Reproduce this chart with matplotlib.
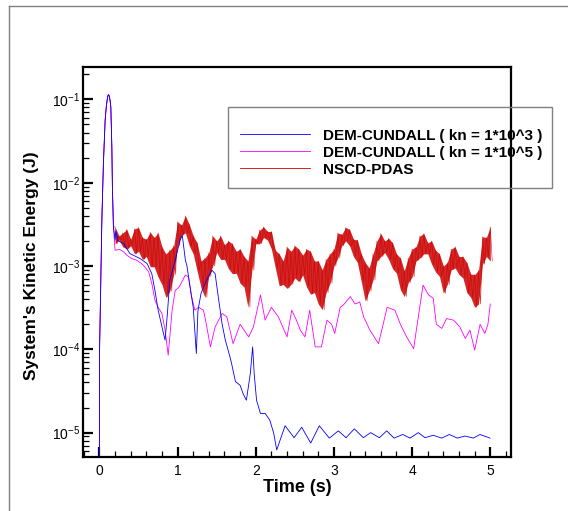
import numpy as np
import matplotlib
matplotlib.use("Agg")
import matplotlib.pyplot as plt
from matplotlib.ticker import MultipleLocator, LogLocator, NullFormatter
from matplotlib.lines import Line2D
from matplotlib.patches import Rectangle

plt.rcParams['font.family'] = ['Liberation Sans', 'DejaVu Sans']

# launch / first impact, shared by the three runs
start_t = [0.0, 0.002, 0.018, 0.031, 0.051, 0.073, 0.088, 0.100, 0.108, 0.115, 0.122,
           0.130, 0.138, 0.146, 0.159, 0.166, 0.179]
start_e = [1e-6, 1e-4, 6.8e-4, 3.5e-3, 1.7e-2, 5.6e-2, 8.2e-2, 1.0e-1, 1.1e-1, 1.14e-1,
           1.12e-1, 1.05e-1, 9.4e-2, 8.1e-2, 2.7e-2, 8.9e-3, 3.0e-3]

# DEM-CUNDALL kn = 1e3
kn3_t = [0.20, 0.21, 0.24, 0.31, 0.39, 0.52, 0.61, 0.67, 0.71, 0.75, 0.80, 0.83, 0.84,
         0.87, 0.90, 0.97, 1.03, 1.06, 1.10, 1.12, 1.16, 1.20, 1.24, 1.26, 1.30, 1.37,
         1.44, 1.48, 1.52, 1.57, 1.61, 1.67, 1.69, 1.74, 1.80, 1.84, 1.88, 1.93, 1.96,
         1.98, 2.01, 2.06, 2.12, 2.18, 2.23, 2.268, 2.375, 2.49, 2.588, 2.703, 2.813,
         2.941, 3.056, 3.155, 3.261, 3.376, 3.47, 3.581, 3.675, 3.769, 3.88, 3.973,
         4.08, 4.165, 4.271, 4.378, 4.476, 4.578, 4.676, 4.783, 4.868, 4.996]
kn3_e = [2.05e-3, 2.6e-3, 2.0e-3, 1.86e-3, 1.41e-3, 1.23e-3, 1.07e-3, 8.1e-4, 5.1e-4,
         3.0e-4, 1.86e-4, 1.41e-4, 1.29e-4, 2.7e-4, 6.8e-4, 1.17e-3, 2.04e-3, 2.34e-3,
         1.17e-3, 1.0e-3, 5.5e-4, 3.2e-4, 8.9e-5, 2.9e-4, 4.7e-4, 6.8e-4, 8.9e-4, 8.1e-4,
         4.3e-4, 2.0e-4, 1.3e-4, 8.1e-5, 6.8e-5, 4.1e-5, 3.7e-5, 2.9e-5, 2.45e-5, 5.1e-5,
         1.07e-4, 5.1e-5, 2.45e-5, 1.7e-5, 1.7e-5, 1.41e-5, 9.8e-6, 6.2e-6, 1.21e-5,
         8.7e-6, 1.16e-5, 7.5e-6, 1.21e-5, 8.6e-6, 1.05e-5, 8.7e-6, 1.11e-5, 8.7e-6,
         1.0e-5, 8.7e-6, 1.05e-5, 8.6e-6, 9.5e-6, 8.6e-6, 1.0e-5, 8.7e-6, 9.3e-6, 8.6e-6,
         9.5e-6, 8.6e-6, 9.1e-6, 8.6e-6, 9.5e-6, 8.6e-6]

# DEM-CUNDALL kn = 1e5
kn5_t = [0.20, 0.26, 0.31, 0.35, 0.41, 0.48, 0.54, 0.58, 0.63, 0.67, 0.71, 0.75, 0.80,
         0.84, 0.88, 0.93, 0.97, 1.02, 1.10, 1.14, 1.18, 1.22, 1.27, 1.33, 1.35, 1.42,
         1.48, 1.57, 1.63, 1.71, 1.80, 1.91, 1.97, 2.06, 2.12, 2.20, 2.29, 2.40, 2.46,
         2.52, 2.57, 2.63, 2.69, 2.76, 2.84, 2.91, 2.97, 3.01, 3.08, 3.12, 3.21, 3.27,
         3.33, 3.38, 3.46, 3.57, 3.63, 3.68, 3.78, 3.85, 3.93, 4.02, 4.06, 4.14, 4.21,
         4.27, 4.31, 4.38, 4.44, 4.53, 4.61, 4.68, 4.74, 4.80, 4.87, 4.93, 4.97, 5.00]
kn5_e = [1.55e-3, 1.58e-3, 1.48e-3, 1.35e-3, 1.23e-3, 1.17e-3, 1.07e-3, 9.8e-4, 8.5e-4,
         6.2e-4, 3.9e-4, 3.2e-4, 2.7e-4, 1.7e-4, 8.5e-5, 2.95e-4, 5.1e-4, 5.6e-4, 7.8e-4,
         7.4e-4, 4.3e-4, 2.95e-4, 3.2e-4, 2.95e-4, 2.45e-4, 1.07e-4, 1.86e-4, 2.7e-4,
         2.45e-4, 1.17e-4, 2.0e-4, 1.41e-4, 1.86e-4, 4.5e-4, 2.24e-4, 3.2e-4, 2.45e-4,
         1.41e-4, 2.95e-4, 2.24e-4, 1.7e-4, 1.41e-4, 2.95e-4, 1.07e-4, 1.07e-4, 2.24e-4,
         2.0e-4, 1.55e-4, 3.2e-4, 3.4e-4, 4.3e-4, 3.5e-4, 3.7e-4, 2.45e-4, 1.7e-4,
         1.17e-4, 2.0e-4, 3.2e-4, 2.95e-4, 2.0e-4, 1.41e-4, 1.02e-4, 1.86e-4, 5.9e-4,
         4.5e-4, 4.1e-4, 2.0e-4, 1.78e-4, 2.34e-4, 2.24e-4, 1.86e-4, 1.35e-4, 1.7e-4,
         9.8e-5, 2.0e-4, 1.55e-4, 2.0e-4, 3.5e-4]

# NSCD-PDAS: upper / lower swing of the noisy signal, every 0.05 s from 0.2 s
pdas_t = np.round(np.arange(0.20, 5.001, 0.05), 3)
pdas_hi = [2.95e-3, 2.3e-3, 2.5e-3, 2.75e-3, 2.1e-3, 2.8e-3, 2.9e-3, 2.2e-3, 2.1e-3, 2.55e-3,
           2.2e-3, 2.5e-3, 1.7e-3, 1.4e-3, 1.55e-3, 1.75e-3, 3.4e-3, 3.1e-3, 4.0e-3, 3.15e-3,
           2.3e-3, 1.9e-3, 1.15e-3, 1.25e-3, 1.45e-3, 2.3e-3, 2.0e-3, 2.3e-3, 1.8e-3, 2.0e-3,
           1.85e-3, 1.5e-3, 1.6e-3, 1.3e-3, 1.15e-3, 2.3e-3, 2.1e-3, 2.7e-3, 2.95e-3, 2.6e-3,
           2.6e-3, 1.55e-3, 1.4e-3, 1.15e-3, 1.7e-3, 1.5e-3, 1.75e-3, 1.6e-3, 1.35e-3, 1.6e-3,
           1.5e-3, 1.15e-3, 1.15e-3, 9.0e-4, 1.2e-3, 1.4e-3, 1.6e-3, 2.5e-3, 2.4e-3, 2.9e-3,
           2.75e-3, 2.1e-3, 2.05e-3, 1.4e-3, 1.1e-3, 9.5e-4, 1.4e-3, 2.0e-3, 2.45e-3, 2.0e-3,
           2.15e-3, 1.9e-3, 1.4e-3, 1.25e-3, 8.8e-4, 1.25e-3, 1.6e-3, 1.7e-3, 2.3e-3, 2.45e-3,
           1.9e-3, 2.0e-3, 1.55e-3, 1.4e-3, 1.0e-3, 1.1e-3, 1.6e-3, 1.7e-3, 1.3e-3, 1.3e-3,
           1.1e-3, 8.0e-4, 7.9e-4, 8.9e-4, 2.25e-3, 2.2e-3, 2.95e-3]
pdas_lo = [1.85e-3, 2.05e-3, 1.7e-3, 1.6e-3, 1.75e-3, 1.4e-3, 1.5e-3, 1.2e-3, 1.3e-3, 9.8e-4,
           9.8e-4, 7.4e-4, 6.0e-4, 4.2e-4, 5.0e-4, 7.9e-4, 1.75e-3, 2.35e-3, 2.5e-3, 1.75e-3,
           1.4e-3, 8.7e-4, 5.5e-4, 4.2e-4, 7.5e-4, 1.0e-3, 1.45e-3, 1.2e-3, 1.2e-3, 9.3e-4,
           8.1e-4, 8.2e-4, 6.2e-4, 5.6e-4, 3.2e-4, 8.9e-4, 1.85e-3, 1.85e-3, 2.2e-3, 2.05e-3,
           1.6e-3, 9.5e-4, 5.8e-4, 6.0e-4, 5.4e-4, 6.0e-4, 7.2e-4, 6.5e-4, 7.8e-4, 5.6e-4,
           4.6e-4, 4.8e-4, 3.5e-4, 3.0e-4, 4.8e-4, 6.2e-4, 1.0e-3, 1.25e-3, 1.75e-3, 2.0e-3,
           1.75e-3, 1.3e-3, 1.1e-3, 6.5e-4, 3.8e-4, 5.0e-4, 6.8e-4, 1.15e-3, 1.3e-3, 1.45e-3,
           1.2e-3, 9.3e-4, 8.2e-4, 5.2e-4, 4.3e-4, 6.3e-4, 7.4e-4, 1.15e-3, 1.25e-3, 1.4e-3,
           1.4e-3, 1.05e-3, 8.5e-4, 7.5e-4, 4.7e-4, 6.0e-4, 9.0e-4, 9.5e-4, 7.9e-4, 7.2e-4,
           4.8e-4, 4.2e-4, 3.2e-4, 3.5e-4, 1.05e-3, 1.3e-3, 1.15e-3]

labels = ['DEM-CUNDALL ( kn = 1*10^3 )', 'DEM-CUNDALL ( kn = 1*10^5 )', 'NSCD-PDAS']
colors = ['#0000ff', '#ff00ff', '#cc0000']

fig = plt.figure(figsize=(5.68, 5.11), dpi=100)
ax = fig.add_axes([83 / 568, 54 / 511, 428 / 568, 390 / 511])

# noisy band: shaded swing plus the zig-zag between the upper and lower values
ax.fill_between(pdas_t, pdas_lo, pdas_hi, color='#cc0000', alpha=0.85, lw=0)
zig_t = np.column_stack([pdas_t, pdas_t + 0.025]).ravel()
zig_e = np.column_stack([pdas_hi, pdas_lo]).ravel()
ax.plot(np.concatenate([start_t, zig_t]), np.concatenate([start_e, zig_e]),
        color='#cc0000', lw=0.45, alpha=0.8)
ax.plot(start_t + kn5_t, start_e + kn5_e, color=colors[1], lw=0.6)
ax.plot(start_t + kn3_t, start_e + kn3_e, color=colors[0], lw=0.6)

ax.set_yscale('log')
ax.set_xlim(-0.21, 5.265)
ax.set_ylim(5.1e-6, 0.245)

ax.xaxis.set_major_locator(MultipleLocator(1))
ax.xaxis.set_minor_locator(MultipleLocator(0.2))
ax.yaxis.set_major_locator(LogLocator(base=10, numticks=20))
ax.yaxis.set_minor_locator(LogLocator(base=10, subs=np.arange(2, 10), numticks=20))
ax.yaxis.set_minor_formatter(NullFormatter())

ax.tick_params(which='both', direction='in', top=False, right=False, labelsize=10)
ax.tick_params(which='major', length=7, width=1.6)
ax.tick_params(which='minor', length=4, width=0.9)
ax.tick_params(axis='y', pad=2)
ax.tick_params(axis='x', pad=5)
for s in ax.spines.values():
    s.set_linewidth(1.6)

ax.set_xlabel('Time (s)', fontsize=13, fontweight='bold')
ax.set_ylabel("System's Kinetic Energy (J)", fontsize=12.5, fontweight='bold')
ax.xaxis.set_label_coords(0.5, -0.057)
ax.yaxis.set_label_coords(-0.103, 0.49)

# legend: frame drawn separately so it can sit past the right spine
handles = [Line2D([], [], color=c, lw=0.6) for c in colors]
fig.legend(handles, labels, loc='upper left', bbox_to_anchor=(232 / 568, 1 - 121 / 511),
           frameon=False, prop={'weight': 'bold', 'size': 11}, handlelength=4.6,
           handletextpad=0.85, labelspacing=0.2, borderpad=0)
fig.patches.append(Rectangle((228 / 568, 1 - 188 / 511), 324 / 568, 81 / 511,
                             transform=fig.transFigure, fill=False, edgecolor='#808080', lw=1.0))

# outer page frame
fig.add_artist(Line2D([9 / 568, 9 / 568], [0, 1 - 6 / 511], transform=fig.transFigure,
                      color='#808080', lw=1.0))
fig.add_artist(Line2D([9 / 568, 1], [1 - 6 / 511, 1 - 6 / 511], transform=fig.transFigure,
                      color='#808080', lw=1.0))

fig.savefig('out.png', dpi=100)
